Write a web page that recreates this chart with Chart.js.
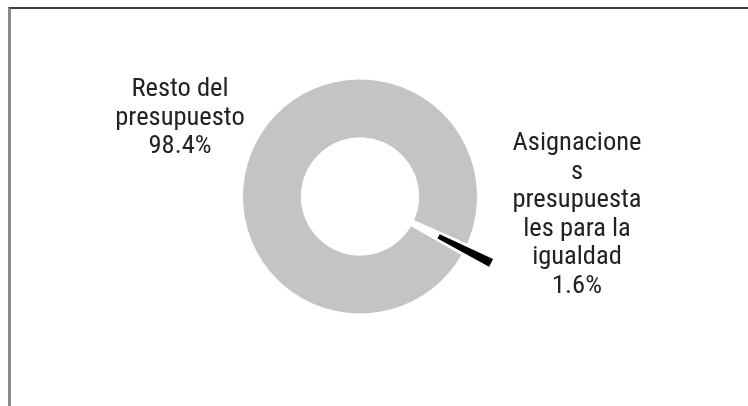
<!DOCTYPE html>
<html>
<head>
<meta charset="utf-8">
<script src="https://cdn.jsdelivr.net/npm/chart.js@4.4.1/dist/chart.umd.min.js"></script>
<style>
  html, body { margin: 0; padding: 0; background: #fff; }
  #wrap { position: relative; width: 748px; height: 406px; overflow: hidden; }
  #frame { position: absolute; left: 8px; top: 7px; right: -10px; bottom: -10px;
           border-top: 2px solid #3f3f3f; border-left: 3px solid #8a8a8a; }
  canvas { position: absolute; left: 0; top: 0; }
</style>
</head>
<body>
<div id="wrap">
  <div id="frame"></div>
  <canvas id="chart-area" width="748" height="406"></canvas>
</div>
<script>
// datos
var categories = ['Asignaciones presupuestales para la igualdad', 'Resto del presupuesto'];
var shares = [1.6, 98.4];
// etiquetas tal como aparecen cortadas en el original
var labelLines = [
  ['Asignacione', 's', 'presupuesta', 'les para la', 'igualdad'],
  ['Resto del', 'presupuesto']
];
var sliceColors = ['#000000', '#c4c4c4'];

var labelFont = "26.5px 'Liberation Sans Narrow', 'Roboto Condensed', Roboto, sans-serif";

// etiquetas de datos: posicion relativa al centro del anillo
var dataLabels = {
  id: 'dataLabels',
  afterDraw: function(chart) {
    var ctx = chart.ctx;
    var meta = chart.getDatasetMeta(0);
    var arc = meta.data[1];
    var cx = arc.x, cy = arc.y;
    var anchors = [[217, -46.5], [-180, -100.5]];
    ctx.save();
    ctx.font = labelFont;
    ctx.fillStyle = '#222222';
    ctx.textAlign = 'center';
    ctx.textBaseline = 'alphabetic';
    for (var i = 0; i < categories.length; i++) {
      var lines = labelLines[i].concat([shares[i].toFixed(1) + '%']);
      for (var j = 0; j < lines.length; j++) {
        ctx.fillText(lines[j], cx + anchors[i][0], cy + anchors[i][1] + j * 28.6);
      }
    }
    ctx.restore();
  }
};

var config = {
  type: 'doughnut',
  data: {
    labels: categories,
    datasets: [{
      data: shares,
      backgroundColor: sliceColors,
      borderColor: '#ffffff',
      borderWidth: [0, 1],
      offset: [62, 0]
    }]
  },
  options: {
    responsive: false,
    animation: false,
    rotation: 114,
    cutout: '50%',
    radius: 117.5,
    layout: { padding: { left: 100, right: 128, top: 20, bottom: 33 } },
    plugins: {
      legend: { display: false },
      tooltip: { enabled: false }
    }
  },
  plugins: [dataLabels]
};

window.onload = function() {
  var ctx = document.getElementById('chart-area').getContext('2d');
  window.myDoughnut = new Chart(ctx, config);
};
</script>
</body>
</html>
